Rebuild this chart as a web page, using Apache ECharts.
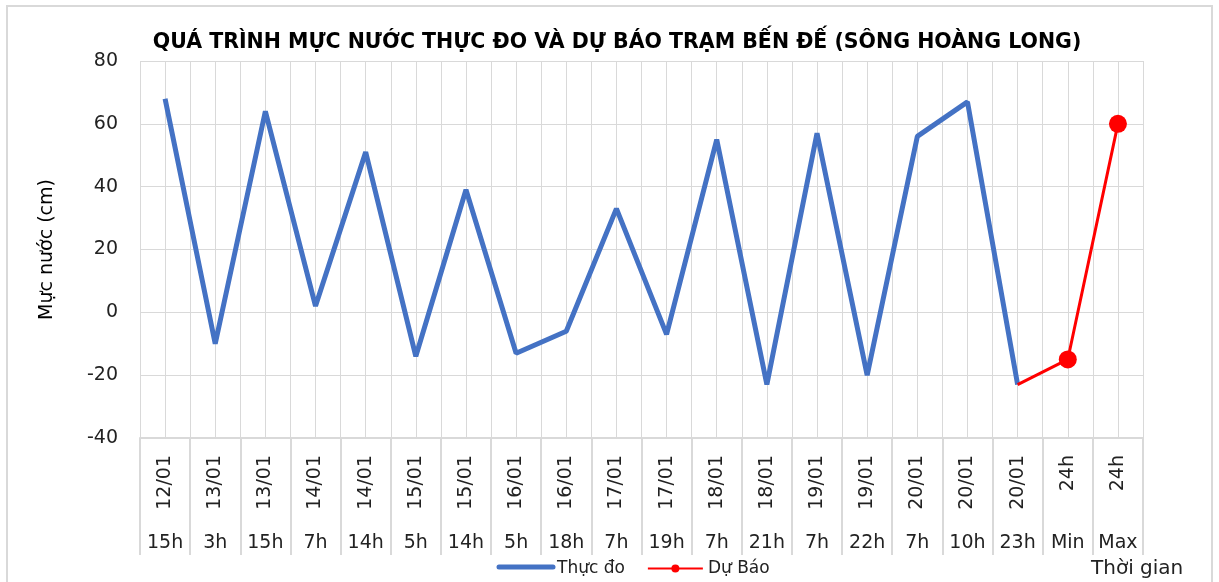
<!DOCTYPE html>
<html>
<head>
<meta charset="utf-8">
<script src="https://cdn.jsdelivr.net/npm/echarts@6/dist/echarts.min.js"></script>
<style>
html,body{margin:0;padding:0;background:#fff;}
#chart{width:1219px;height:582px;}
</style>
</head>
<body>
<div id="chart"></div>
<script>
var dates = ['12/01','13/01','13/01','14/01','14/01','15/01','15/01','16/01','16/01','17/01','17/01','18/01','18/01','19/01','19/01','20/01','20/01','20/01','24h','24h'];
var hours = ['15h','3h','15h','7h','14h','5h','14h','5h','18h','7h','19h','7h','21h','7h','22h','7h','10h','23h','Min','Max'];
var measured = [68,-10,64,2,51,-14,39,-13,-6,33,-7,55,-23,57,-20,56,67,-23,null,null];
var forecast = [null,null,null,null,null,null,null,null,null,null,null,null,null,null,null,null,null,-23,-15,60];
var yTicks = {min:-40, max:80, interval:20};

var FONT = '"DejaVu Sans", sans-serif';
var chart = echarts.init(document.getElementById('chart'));
var forecastData = forecast.map(function(v, i){
  if (v === null) return null;
  return (i === 17) ? {value: v, symbol: 'none'} : v;
});
chart.setOption({
  animation: false,
  backgroundColor: '#fff',
  title: {
    text: 'QUÁ TRÌNH MỰC NƯỚC THỰC ĐO VÀ DỰ BÁO TRẠM BẾN ĐẾ (SÔNG HOÀNG LONG)',
    left: 615, top: 27, textAlign: 'center',
    textStyle: {fontFamily: FONT, fontWeight: 'bold', fontSize: 20.5, color: '#000'}
  },
  grid: {left: 140, right: 76, top: 61, bottom: 144},
  legend: {
    bottom: 0, left: 492,
    itemWidth: 55, itemHeight: 10, itemGap: 22,
    textStyle: {fontFamily: FONT, fontSize: 17, color: '#222'},
    data: [
      {name: 'Thực đo', icon: 'none'},
      {name: 'Dự Báo'}
    ]
  },
  xAxis: [
    {
      type: 'category', data: dates, boundaryGap: true,
      axisLine: {show: true, onZero: false, lineStyle: {color: '#d9d9d9', width: 2}},
      axisTick: {show: true, length: 117, interval: 0, lineStyle: {color: '#d9d9d9', width: 2}},
      axisLabel: {interval: 0, rotate: 90, margin: 17, fontFamily: FONT, fontSize: 19, color: '#222'},
      splitLine: {show: false}
    },
    {
      type: 'category', data: hours, boundaryGap: true, position: 'bottom',
      axisLine: {show: false, onZero: false}, axisTick: {show: false},
      axisLabel: {interval: 0, margin: 96, fontFamily: FONT, fontSize: 19, color: '#222'},
      name: 'Thời gian', nameLocation: 'end', nameGap: 0,
      nameTextStyle: {fontFamily: FONT, fontSize: 20, color: '#222', align: 'left', verticalAlign: 'top', padding: [121, 0, 0, -52]}
    },
    {
      type: 'value', min: 0, max: 40, interval: 1, show: true,
      axisLine: {show: false, onZero: false}, axisTick: {show: false}, axisLabel: {show: false},
      splitLine: {show: true, lineStyle: {color: '#d9d9d9', width: 1}}
    }
  ],
  yAxis: {
    type: 'value', min: yTicks.min, max: yTicks.max, interval: yTicks.interval,
    name: 'Mực nước (cm)', nameLocation: 'middle', nameGap: 83, nameRotate: 90,
    nameTextStyle: {fontFamily: FONT, fontSize: 19, color: '#000'},
    axisLine: {show: false}, axisTick: {show: false},
    axisLabel: {margin: 22, fontFamily: FONT, fontSize: 19, color: '#222'},
    splitLine: {lineStyle: {color: '#d9d9d9', width: 1}}
  },
  series: [
    {
      name: 'Thực đo', type: 'line', xAxisIndex: 0, data: measured,
      symbol: 'none', lineStyle: {color: '#4472C4', width: 5}, itemStyle: {color: '#4472C4'},
      z: 3
    },
    {
      name: 'Dự Báo', type: 'line', xAxisIndex: 0, data: forecastData,
      symbol: 'circle', symbolSize: 18,
      lineStyle: {color: '#FF0000', width: 3}, itemStyle: {color: '#FF0000'},
      z: 4
    }
  ],
  graphic: [
    {type: 'rect', shape: {x: 7, y: 6, width: 1205, height: 590}, style: {fill: 'none', stroke: '#d9d9d9', lineWidth: 2}, silent: true},
    {type: 'line', shape: {x1: 499, y1: 567, x2: 553, y2: 567}, style: {stroke: '#4472C4', lineWidth: 5, lineCap: 'round'}, silent: true}
  ]
});
chart.setOption({title: {left: 612}});
</script>
</body>
</html>
